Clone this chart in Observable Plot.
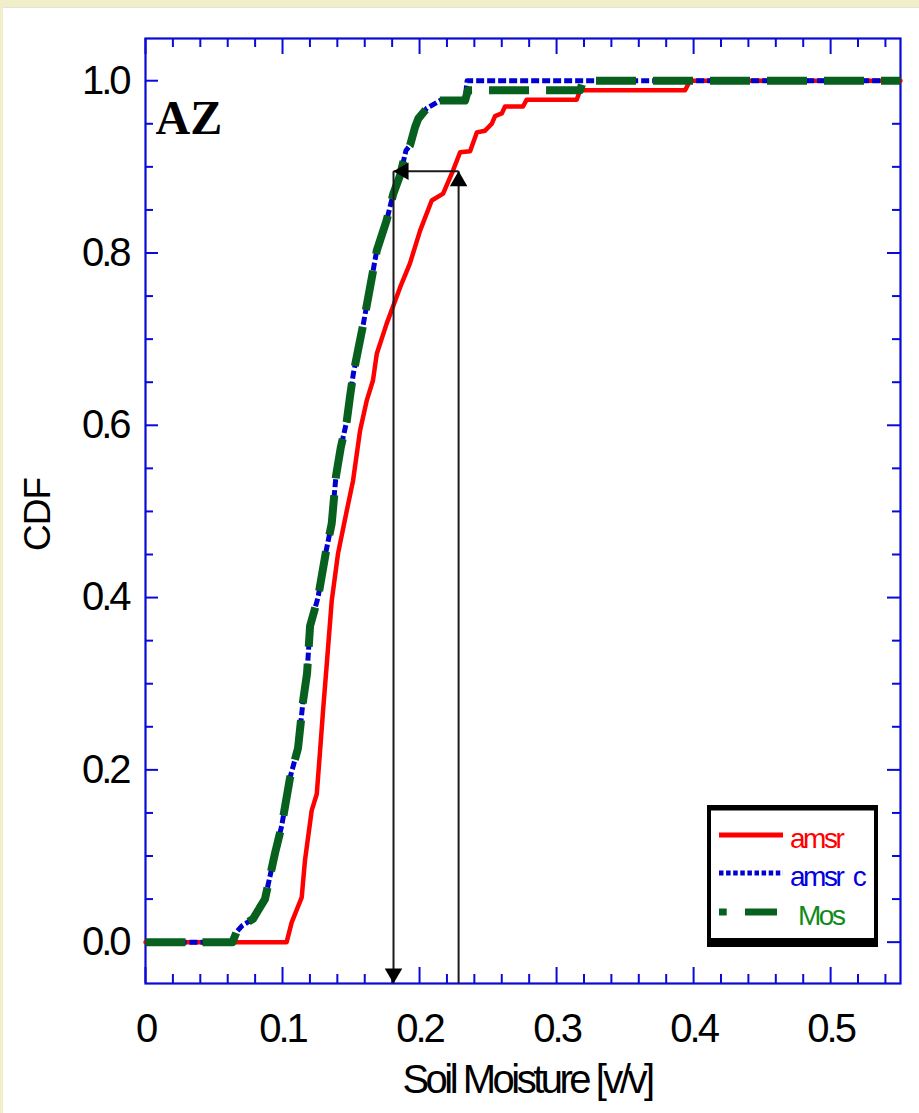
<!DOCTYPE html>
<html>
<head>
<meta charset="utf-8">
<script src="https://cdn.jsdelivr.net/npm/d3@7"></script>
<script src="https://cdn.jsdelivr.net/npm/@observablehq/plot@0.6"></script>
<style>
  html, body { margin: 0; padding: 0; background: #f1efc9; width: 919px; height: 1113px; overflow: hidden; }
  #page { position: absolute; left: 3px; top: 7px; width: 916px; height: 1106px; background: #ffffff; border-top: 1px solid #e4e3d4; }
  #chart { position: absolute; left: 0; top: 0; }
  #legend { position: absolute; left: 707px; top: 805px; }
</style>
</head>
<body>
<div id="page"></div>
<div id="chart"></div>
<div id="legend"></div>
<script>
// ---------- data ----------
const seriesNames = ["amsr", "amsr  c", "Mos"];

const amsrX = [0, 0.103, 0.1067, 0.114, 0.1164, 0.1213, 0.125, 0.1274, 0.1296, 0.1325,
  0.1359, 0.1405, 0.1469, 0.1515, 0.1566, 0.1615, 0.166, 0.1688, 0.176, 0.1858,
  0.193, 0.2004, 0.2089, 0.2172, 0.2245, 0.2296, 0.2369, 0.2418, 0.2478, 0.2527,
  0.2551, 0.26, 0.2624, 0.2755, 0.2782, 0.3147, 0.3172, 0.3938, 0.3974, 0.551];
const amsrY = [0, 0, 0.023, 0.052, 0.095, 0.153, 0.172, 0.222, 0.269, 0.327,
  0.396, 0.451, 0.501, 0.536, 0.594, 0.629, 0.652, 0.683, 0.718, 0.760,
  0.788, 0.826, 0.861, 0.869, 0.896, 0.917, 0.918, 0.940, 0.942, 0.950,
  0.959, 0.962, 0.970, 0.970, 0.978, 0.978, 0.989, 0.989, 1.0, 1.0];

const amsrcX = [0, 0.0631, 0.0661, 0.0704, 0.0785, 0.0821, 0.0872, 0.0945, 0.0994, 0.1055,
  0.1113, 0.115, 0.1179, 0.1201, 0.1259, 0.1318, 0.1359, 0.139, 0.1425, 0.1469,
  0.1493, 0.1517, 0.159, 0.1626, 0.1688, 0.176, 0.1809, 0.1858, 0.1901, 0.1931,
  0.1967, 0.1991, 0.2053, 0.215, 0.2332, 0.2347, 0.551];
const amsrcY = [0, 0, 0.011, 0.019, 0.027, 0.040, 0.050, 0.103, 0.135, 0.191,
  0.225, 0.280, 0.312, 0.367, 0.400, 0.454, 0.486, 0.541, 0.574, 0.605,
  0.634, 0.660, 0.718, 0.749, 0.803, 0.838, 0.869, 0.890, 0.919, 0.925,
  0.946, 0.956, 0.968, 0.977, 0.977, 1.0, 1.0];

const mosX = [0, 0.0635, 0.0665, 0.0704, 0.0785, 0.0826, 0.0872, 0.0945, 0.0994, 0.1055,
  0.1113, 0.115, 0.1179, 0.1201, 0.1259, 0.1318, 0.1359, 0.139, 0.1425, 0.1469,
  0.1493, 0.1517, 0.159, 0.1626, 0.1688, 0.176, 0.1809, 0.1858, 0.1901, 0.1931,
  0.1967, 0.1991, 0.2053, 0.2145, 0.2332, 0.2354, 0.3172, 0.3193, 0.551];
const mosY = [0, 0, 0.012, 0.019, 0.027, 0.038, 0.050, 0.103, 0.135, 0.191,
  0.225, 0.280, 0.312, 0.367, 0.400, 0.454, 0.486, 0.541, 0.574, 0.605,
  0.634, 0.660, 0.718, 0.749, 0.803, 0.838, 0.869, 0.890, 0.919, 0.925,
  0.946, 0.956, 0.968, 0.977, 0.977, 0.989, 0.989, 1.0, 1.0];

// arrows: from amsr value up to CDF level, across to the corrected value, down
const arrowFromX = 0.2285;
const arrowToX = 0.181;
const arrowLevel = 0.895;

// ticks and labels
const xTickValues = [0, 0.1, 0.2, 0.3, 0.4, 0.5];
const xTickLabels = ["0", "0.1", "0.2", "0.3", "0.4", "0.5"];
const xMinorTicks = [0.02, 0.04, 0.06, 0.08, 0.12, 0.14, 0.16, 0.18, 0.22, 0.24, 0.26, 0.28,
  0.32, 0.34, 0.36, 0.38, 0.42, 0.44, 0.46, 0.48, 0.52, 0.54];
const yTickValues = [0, 0.2, 0.4, 0.6, 0.8, 1.0];
const yTickLabels = ["0.0", "0.2", "0.4", "0.6", "0.8", "1.0"];
const yMinorTicks = [0.05, 0.1, 0.15, 0.25, 0.3, 0.35, 0.45, 0.5, 0.55, 0.65, 0.7, 0.75, 0.85, 0.9, 0.95];

const xTitle = "Soil Moisture [v/v]";
const yTitle = "CDF";
const panelLabel = "AZ";

// ---------- build tables ----------
const amsr = amsrX.map((x, i) => ({x, y: amsrY[i]}));
const amsrc = amsrcX.map((x, i) => ({x, y: amsrcY[i]}));
const mos = mosX.map((x, i) => ({x, y: mosY[i]}));

const xDomain = [0, 0.551];
const yDomain = [-0.048, 1.049];
const yMin = yDomain[0];

const segs = [
  {x1: arrowFromX, y1: yMin, x2: arrowFromX, y2: arrowLevel},
  {x1: arrowFromX, y1: arrowLevel, x2: arrowToX, y2: arrowLevel},
  {x1: arrowToX, y1: arrowLevel, x2: arrowToX, y2: yMin}
];

// ---------- layout ----------
const W = 919, H = 1113;
const mL = 145, mR = 19, mT = 38, mB = 130;
const fw = W - mL - mR, fh = H - mT - mB;
const axisBlue = "#0a0ad8";
const red = "#ff0000", blue = "#0000d0", green = "#08601e";
const headR = 6.5, headOff = 10;

const chart = Plot.plot({
  width: W, height: H,
  marginLeft: mL, marginRight: mR, marginTop: mT, marginBottom: mB,
  style: {background: "transparent", fontFamily: "'Liberation Sans', Arial, sans-serif", overflow: "visible"},
  x: {domain: xDomain, label: null},
  y: {domain: yDomain, label: null},
  marks: [
    // inward ticks, bottom & top
    Plot.ruleX(xMinorTicks, {stroke: axisBlue, strokeWidth: 2, insetTop: fh - 9}),
    Plot.ruleX(xTickValues, {stroke: axisBlue, strokeWidth: 2, insetTop: fh - 16}),
    Plot.ruleX(xMinorTicks, {stroke: axisBlue, strokeWidth: 2, insetBottom: fh - 9}),
    Plot.ruleX(xTickValues, {stroke: axisBlue, strokeWidth: 2, insetBottom: fh - 16}),
    // inward ticks, left & right
    Plot.ruleY(yMinorTicks, {stroke: axisBlue, strokeWidth: 2, insetRight: fw - 8}),
    Plot.ruleY(yTickValues, {stroke: axisBlue, strokeWidth: 2, insetRight: fw - 13}),
    Plot.ruleY(yMinorTicks, {stroke: axisBlue, strokeWidth: 2, insetLeft: fw - 8}),
    Plot.ruleY(yTickValues, {stroke: axisBlue, strokeWidth: 2, insetLeft: fw - 13}),
    Plot.frame({stroke: axisBlue, strokeWidth: 2.2}),
    // series
    Plot.line(amsr, {x: "x", y: "y", stroke: red, strokeWidth: 4.5}),
    Plot.line(amsrc, {x: "x", y: "y", stroke: blue, strokeWidth: 5, strokeDasharray: "8,3", strokeLinecap: "butt"}),
    Plot.line(mos, {x: "x", y: "y", stroke: green, strokeWidth: 8, strokeDasharray: "40,17", strokeLinecap: "butt"}),
    // arrows
    Plot.link(segs, {x1: "x1", y1: "y1", x2: "x2", y2: "y2", stroke: "#1a1a1a", strokeWidth: 2}),
    Plot.dot([{x: arrowFromX, y: arrowLevel}], {x: "x", y: "y", symbol: "triangle", r: headR, fill: "#000", stroke: "none", dy: headOff}),
    Plot.dot([{x: arrowToX, y: arrowLevel}], {x: "x", y: "y", symbol: "triangle", r: headR, fill: "#000", stroke: "none", rotate: -90, dx: headOff}),
    Plot.dot([{x: arrowToX, y: yMin}], {x: "x", y: "y", symbol: "triangle", r: headR, fill: "#000", stroke: "none", rotate: 180, dy: -headOff}),
    // axes labels
    Plot.axisX({ticks: xTickValues, tickFormat: (d, i) => xTickLabels[i], tickSize: 0, tickPadding: 30, fontSize: 40, label: null, fill: "#000"}),
    Plot.axisY({ticks: yTickValues, tickFormat: (d, i) => yTickLabels[i], tickSize: 0, tickPadding: 17, fontSize: 40, label: null, fill: "#000"}),
    Plot.text([xTitle], {text: d => d, frameAnchor: "bottom", dx: 4, dy: 97, lineAnchor: "middle", fontSize: 40, fill: "#000"}),
    Plot.text([yTitle], {text: d => d, frameAnchor: "left", dx: -107, dy: 40, rotate: -90, lineAnchor: "middle", fontSize: 37, fill: "#000"}),
    Plot.text([panelLabel], {text: d => d, frameAnchor: "top-left", dx: 10, dy: 95, textAnchor: "start", lineAnchor: "bottom",
      fontFamily: "'Liberation Serif', 'Times New Roman', serif", fontWeight: "bold", fontSize: 48, fill: "#000"})
  ]
});
document.getElementById("chart").appendChild(chart);
d3.select(chart).selectAll("text").style("letter-spacing", "-3px");
d3.select(chart).selectAll("text").filter(function () { return this.textContent === panelLabel; }).style("letter-spacing", "0px");
d3.select(chart).selectAll("text").filter(function () { return this.textContent === xTitle; }).style("letter-spacing", "-3.5px");
d3.select(chart).selectAll("text").filter(function () { return this.textContent === yTitle; }).style("letter-spacing", "-1px");

// ---------- legend ----------
const legendStroke = [red, blue, green];
const legendTextColor = ["#ff0000", "#0000e0", "#118a1a"];
const legendDash = [null, "4.5,2.6", "7.7,18.3,32,100"];
const legendWidth = [5, 5, 7];
const lg = d3.select("#legend").append("svg").attr("width", 172).attr("height", 143);
lg.append("rect").attr("x", 0).attr("y", 0).attr("width", 171).attr("height", 142).attr("fill", "#000");
lg.append("rect").attr("x", 4).attr("y", 5.5).attr("width", 163).attr("height", 127.5).attr("fill", "#fff");
const rowY = [30, 68, 107];
const textX = [83, 83, 91];
seriesNames.forEach((name, i) => {
  const l = lg.append("line").attr("x1", 12).attr("x2", 76).attr("y1", rowY[i]).attr("y2", rowY[i])
    .attr("stroke", legendStroke[i]).attr("stroke-width", legendWidth[i]);
  if (legendDash[i]) l.attr("stroke-dasharray", legendDash[i]);
  lg.append("text").attr("x", textX[i]).attr("y", rowY[i] + 4).attr("dy", "0.32em")
    .attr("fill", legendTextColor[i]).attr("font-family", "'Liberation Sans', Arial, sans-serif")
    .attr("font-size", 28).style("letter-spacing", "-2.5px").style("white-space", "pre").text(name);
});
</script>
</body>
</html>
